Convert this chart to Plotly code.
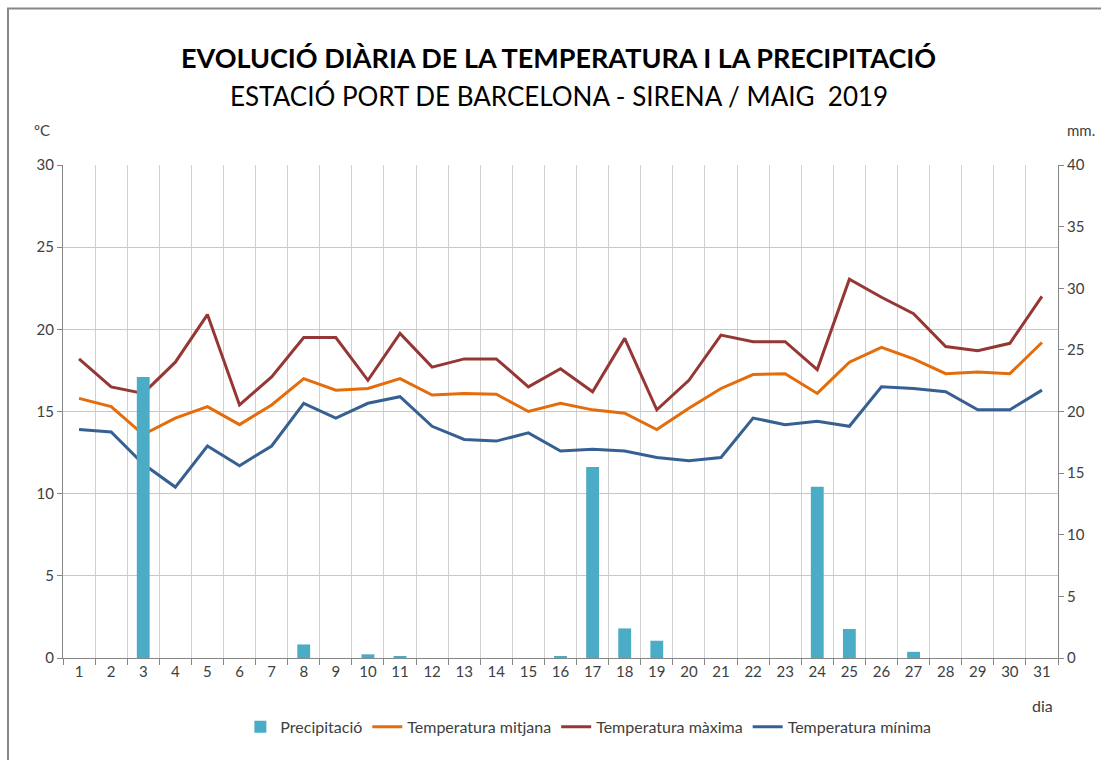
import plotly.graph_objects as go

days = list(range(1, 32))
day_labels = [str(d) for d in days]

precip = [0, 0, 22.8, 0, 0, 0, 0, 1.1, 0, 0.3, 0.1, 0, 0, 0, 0, 0.1, 15.5, 2.4, 1.4, 0,
          0, 0, 0, 13.9, 2.35, 0, 0.5, 0, 0, 0, 0]
t_mean = [15.8, 15.3, 13.6, 14.6, 15.3, 14.2, 15.4, 17.0, 16.3, 16.4, 17.0, 16.0, 16.1, 16.05, 15.0, 15.5,
          15.1, 14.9, 13.9, 15.2, 16.4, 17.25, 17.3, 16.1, 18.0, 18.9, 18.2, 17.3, 17.4, 17.3, 19.2]
t_max = [18.2, 16.5, 16.1, 18.0, 20.9, 15.4, 17.1, 19.5, 19.5, 16.9, 19.75, 17.7, 18.2, 18.2, 16.5, 17.6,
         16.2, 19.45, 15.1, 16.9, 19.65, 19.25, 19.25, 17.55, 23.05, 21.95, 20.95, 18.95, 18.7, 19.15, 22.0]
t_min = [13.9, 13.75, 11.8, 10.4, 12.9, 11.7, 12.9, 15.5, 14.6, 15.5, 15.9, 14.1, 13.3, 13.2, 13.7, 12.6,
         12.7, 12.6, 12.2, 12.0, 12.2, 14.6, 14.2, 14.4, 14.1, 16.5, 16.4, 16.2, 15.1, 15.1, 16.3]

FONT = "Lato"
AXC = "#868686"
TXT = "#404040"

fig = go.Figure()
fig.add_trace(go.Bar(x=days, y=precip, name="Precipitació", marker=dict(color="#4BACC6", line=dict(width=0)),
                     width=0.4, yaxis="y2"))
fig.add_trace(go.Scatter(x=days, y=t_mean, name="Temperatura mitjana", mode="lines",
                         line=dict(color="#E46C0A", width=3)))
fig.add_trace(go.Scatter(x=days, y=t_max, name="Temperatura màxima", mode="lines",
                         line=dict(color="#953735", width=3)))
fig.add_trace(go.Scatter(x=days, y=t_min, name="Temperatura mínima", mode="lines",
                         line=dict(color="#376092", width=3)))

fig.update_layout(
    width=1101, height=760,
    margin=dict(l=63, r=43, t=165, b=102),
    paper_bgcolor="white", plot_bgcolor="white",
    font=dict(family=FONT, size=15, color=TXT),
    showlegend=True,
    legend=dict(orientation="h", x=0.528, xanchor="center", y=-0.105, yanchor="top",
                font=dict(family=FONT, size=16, color=TXT), traceorder="normal",
                itemwidth=30),
    xaxis=dict(range=[0.5, 31.5], tickmode="array", tickvals=days, ticktext=day_labels,
               showgrid=False, ticks="", showline=True, linecolor=AXC, linewidth=1,
               tickfont=dict(family=FONT, size=15, color=TXT),
               minor=dict(tickmode="linear", tick0=0.5, dtick=1, showgrid=True,
                          gridcolor="#D0D0D0", gridwidth=1, ticks="outside", ticklen=6,
                          tickcolor=AXC),
               zeroline=False),
    yaxis=dict(range=[0, 30], dtick=5, showgrid=True, gridcolor="#C8C8C8", gridwidth=1,
               showline=True, linecolor=AXC, ticks="outside", ticklen=5, tickcolor=AXC,
               zeroline=False, tickfont=dict(family=FONT, size=15, color=TXT)),
    yaxis2=dict(range=[0, 40], dtick=5, overlaying="y", side="right", showgrid=False,
                showline=True, linecolor=AXC, ticks="outside", ticklen=5, tickcolor=AXC,
                zeroline=False, tickfont=dict(family=FONT, size=15, color=TXT)),
    bargap=0.6,
)

fig.add_annotation(text="<b>EVOLUCIÓ DIÀRIA DE LA TEMPERATURA I LA PRECIPITACIÓ</b>",
                   xref="paper", yref="paper", x=0.498, y=(658 - 57) / 493, xanchor="center",
                   yanchor="middle", showarrow=False, font=dict(family=FONT, size=27, color="black"))
fig.add_annotation(text="ESTACIÓ PORT DE BARCELONA - SIRENA / MAIG  2019",
                   xref="paper", yref="paper", x=0.498, y=(658 - 96) / 493, xanchor="center",
                   yanchor="middle", showarrow=False, font=dict(family=FONT, size=26, color="black"))
fig.add_annotation(text="ºC", xref="paper", yref="paper", x=(42 - 63) / 995, y=(658 - 130) / 493,
                   xanchor="center", yanchor="middle", showarrow=False,
                   font=dict(family=FONT, size=15, color=TXT))
fig.add_annotation(text="mm.", xref="paper", yref="paper", x=(1081 - 63) / 995, y=(658 - 130) / 493,
                   xanchor="center", yanchor="middle", showarrow=False,
                   font=dict(family=FONT, size=15, color=TXT))
fig.add_annotation(text="dia", xref="paper", yref="paper", x=(1042 - 63) / 995, y=(658 - 705) / 493,
                   xanchor="center", yanchor="middle", showarrow=False,
                   font=dict(family=FONT, size=16, color=TXT))

fig.add_shape(type="rect", xref="paper", yref="paper",
              x0=(8 - 63) / 995, x1=(1110 - 63) / 995, y0=(658 - 770) / 493, y1=(658 - 8.5) / 493,
              line=dict(color="#888888", width=2), fillcolor="rgba(0,0,0,0)", layer="below")

fig.write_html("out.html", config={"displayModeBar": False},
               post_script="document.body.style.margin='0';document.body.style.overflow='hidden';")
